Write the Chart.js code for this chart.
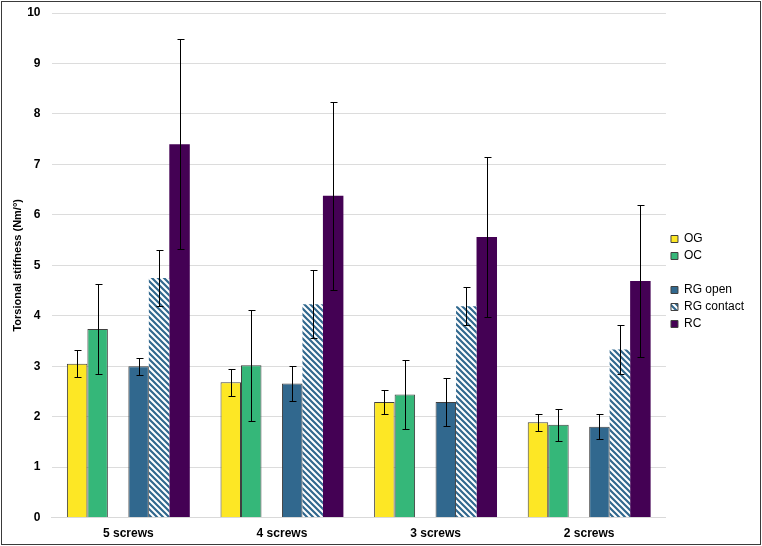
<!DOCTYPE html>
<html>
<head>
<meta charset="utf-8">
<script src="https://cdn.jsdelivr.net/npm/chart.js@4.4.1/dist/chart.umd.min.js"></script>
<style>
  html, body { margin: 0; padding: 0; background: #fff; }
  #wrap { position: absolute; left: 1px; top: 1px; width: 758px; height: 542px; border: 1px solid #3a3a3a; }
  canvas { display: block; }
</style>
</head>
<body>
<div id="wrap"><canvas id="c" width="758" height="542"></canvas></div>
<script>
const categories = ['5 screws', '4 screws', '3 screws', '2 screws'];
const seriesNames = ['OG', 'OC', '', 'RG open', 'RG contact', 'RC'];

const OG = [3.05, 2.68, 2.29, 1.89];
const OC = [3.74, 3.02, 2.44, 1.84];
const RGopen = [3.00, 2.66, 2.29, 1.80];
const RGcontact = [4.75, 4.23, 4.19, 3.33];
const RC = [7.40, 6.38, 5.56, 4.69];

const OG_err = [0.27, 0.27, 0.24, 0.17];
const OC_err = [0.89, 1.10, 0.69, 0.32];
const RGopen_err = [0.17, 0.35, 0.48, 0.25];
const RGcontact_err = [0.55, 0.68, 0.38, 0.49];
const RC_err = [2.08, 1.86, 1.58, 1.50];

const yTicks = [0, 1, 2, 3, 4, 5, 6, 7, 8, 9, 10];

function hatch() {
  const s = 6;
  const p = document.createElement('canvas');
  p.width = s; p.height = s;
  const g = p.getContext('2d');
  g.fillStyle = '#ffffff';
  g.fillRect(0, 0, s, s);
  g.strokeStyle = '#31688E';
  g.lineWidth = 2.2;
  g.beginPath();
  g.moveTo(-1, -1); g.lineTo(s + 1, s + 1);
  g.moveTo(-1, s - 1); g.lineTo(1, s + 1);
  g.moveTo(s - 1, -1); g.lineTo(s + 1, 1);
  g.stroke();
  return document.getElementById('c').getContext('2d').createPattern(p, 'repeat');
}
const hatchFill = hatch();

const datasets = [
  { label: seriesNames[0], data: OG, err: OG_err, backgroundColor: '#FDE725', borderColor: '#404040', borderWidth: 1 },
  { label: seriesNames[1], data: OC, err: OC_err, backgroundColor: '#35B779', borderColor: '#404040', borderWidth: 1 },
  { label: seriesNames[2], data: [null, null, null, null], err: null, backgroundColor: 'rgba(0,0,0,0)', borderWidth: 0 },
  { label: seriesNames[3], data: RGopen, err: RGopen_err, backgroundColor: '#31688E', borderColor: '#404040', borderWidth: 1 },
  { label: seriesNames[4], data: RGcontact, err: RGcontact_err, backgroundColor: hatchFill, borderColor: '#31688E', borderWidth: 0 },
  { label: seriesNames[5], data: RC, err: RC_err, backgroundColor: '#440154', borderColor: '#440154', borderWidth: 0 }
];

const errorBars = {
  id: 'errorBars',
  afterDatasetsDraw(chart) {
    const ctx = chart.ctx;
    const ys = chart.scales.y;
    ctx.save();
    ctx.strokeStyle = '#000';
    ctx.lineWidth = 1;
    chart.data.datasets.forEach((ds, i) => {
      if (!ds.err) return;
      const meta = chart.getDatasetMeta(i);
      meta.data.forEach((el, j) => {
        const v = ds.data[j], e = ds.err[j];
        const x = Math.round(el.x) + 0.5;
        const t = Math.round(ys.getPixelForValue(v + e)) + 0.5;
        const b = Math.round(ys.getPixelForValue(v - e)) + 0.5;
        ctx.beginPath();
        ctx.moveTo(x, t); ctx.lineTo(x, b);
        ctx.moveTo(x - 3, t); ctx.lineTo(x + 4, t);
        ctx.moveTo(x - 3, b); ctx.lineTo(x + 4, b);
        ctx.stroke();
      });
    });
    ctx.restore();
  }
};

Chart.defaults.font.family = '"Liberation Sans", Arial, sans-serif';
Chart.defaults.color = '#000';

new Chart(document.getElementById('c'), {
  type: 'bar',
  data: { labels: categories, datasets },
  plugins: [errorBars],
  options: {
    responsive: false,
    animation: false,
    layout: { padding: { top: 11, left: 9, right: 6, bottom: -6 } },
    datasets: { bar: { categoryPercentage: 0.8, barPercentage: 1.0 } },
    plugins: {
      tooltip: { enabled: false },
      legend: {
        position: 'right',
        align: 'center',
        labels: {
          boxWidth: 7, boxHeight: 7, padding: 5,
          font: { size: 12 },
          color: '#000',
          generateLabels(chart) {
            return chart.data.datasets.map((ds, i) => ({
              text: ds.label,
              fillStyle: ds.label ? ds.backgroundColor : 'rgba(0,0,0,0)',
              strokeStyle: ds.label ? '#404040' : 'rgba(0,0,0,0)',
              lineWidth: ds.label ? 1 : 0,
              hidden: false,
              datasetIndex: i
            }));
          }
        }
      }
    },
    scales: {
      x: {
        grid: { display: false, drawTicks: false },
        border: { display: true, color: '#d9d9d9' },
        ticks: { font: { size: 12, weight: 'bold' }, padding: 9 }
      },
      y: {
        min: 0, max: 10,
        afterBuildTicks(axis) { axis.ticks = yTicks.map(v => ({ value: v })); },
        grid: { color: '#dcdcdc', drawTicks: true, tickLength: 10, tickColor: 'rgba(0,0,0,0)' },
        border: { display: false },
        ticks: { font: { size: 12, weight: 'bold' }, padding: 1 },
        title: { display: true, text: 'Torsional stiffness (Nm/°)', font: { size: 11, weight: 'bold' }, padding: { top: 0, bottom: 2 } }
      }
    }
  }
});
</script>
</body>
</html>
